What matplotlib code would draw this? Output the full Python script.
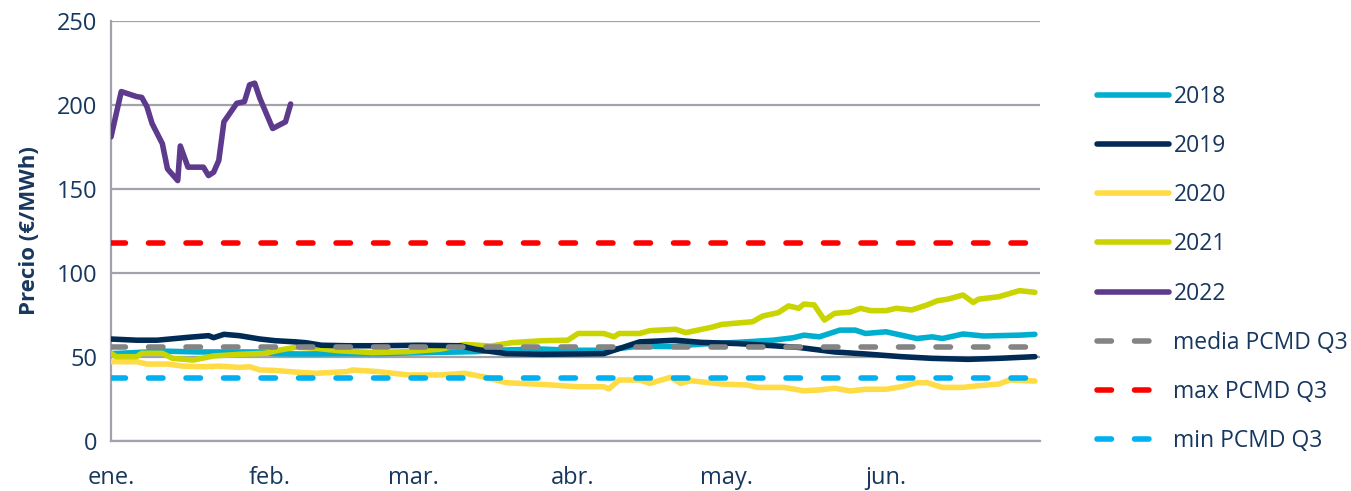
import matplotlib
matplotlib.use('Agg')
import matplotlib.pyplot as plt

plt.rcParams['font.family'] = ['Open Sans', 'DejaVu Sans']

# eje x en dias desde el 1 de enero
month_days = [0, 31, 59, 90, 120, 151]
month_labels = ['ene.', 'feb.', 'mar.', 'abr.', 'may.', 'jun.']

days_2018 = [0, 4, 10, 17, 25, 29, 32, 37, 45, 52, 60, 71, 77, 84, 90, 96, 103, 109, 115,
             122, 129, 133, 135, 138, 140, 142, 145, 147, 151, 154, 157, 160, 162, 166, 170, 177, 180]
vals_2018 = [52, 52.5, 53.5, 53, 53, 53, 52, 51.8, 52, 52, 52.5, 53.2, 54.2, 54.7, 54, 54, 56.5, 56.2, 57.7,
             58.7, 60, 61.5, 63, 62, 64, 66, 66, 64, 65, 63, 61, 62, 61, 63.7, 62.5, 63, 63.5]

days_2019 = [0, 5, 9, 15, 19, 20, 22, 25, 29, 32, 36, 38, 41, 46, 52, 60, 68, 71, 77, 84, 91, 96,
             103, 110, 115, 122, 129, 134, 141, 147, 154, 160, 167, 173, 180]
vals_2019 = [60.7, 60, 60, 61.7, 62.7, 61.5, 63.5, 62.7, 60.7, 59.7, 59, 58.5, 57, 56.7, 56.7, 57, 56.7, 54.6,
             52, 51.6, 51.8, 52, 59, 60, 58.7, 58, 56.7, 55.7, 53, 51.8, 50.2, 49.2, 48.6, 49.2, 50.2]

days_2020 = [0, 5, 7, 11, 14, 18, 21, 25, 27, 29, 32, 36, 40, 46, 47, 52, 58, 64, 69, 73, 77, 84,
             91, 96, 97, 99, 103, 105, 109, 111, 113, 119, 124, 126, 131, 135, 138, 141, 144, 147,
             151, 154, 157, 159, 162, 166, 169, 173, 175, 180]
vals_2020 = [47.2, 47.2, 45.8, 45.8, 44.6, 44.2, 44.6, 43.8, 44.2, 42.3, 42, 41, 40.3, 41.3, 42.3, 41.3,
             39.3, 39.3, 40.3, 37.9, 34.7, 33.7, 32.3, 32.3, 31, 36.3, 36.3, 34.3, 37.9, 34.3, 35.9, 33.9,
             33.3, 31.9, 31.9, 29.9, 30.4, 31.4, 29.8, 30.8, 30.8, 32.3, 34.7, 34.7, 31.9, 31.9, 32.9,
             33.9, 36.3, 35.7]

days_2021 = [0, 1, 5, 6, 10, 12, 16, 20, 25, 30, 33, 36, 40, 44, 51, 58, 64, 69, 74, 78, 84, 89,
             91, 96, 98, 99, 103, 105, 110, 112, 117, 119, 125, 127, 130, 132, 134, 135, 137, 139,
             141, 144, 146, 148, 151, 153, 156, 159, 161, 163, 166, 168, 169, 173, 177, 180]
vals_2021 = [52.2, 50.2, 50.2, 52.2, 52.2, 49.2, 48.2, 50.6, 51.6, 52.2, 54.2, 55.8, 55.2, 53.8, 52.6,
             53.2, 54.6, 57.5, 56.5, 58.5, 59.7, 60, 64, 64, 62, 64, 64, 65.7, 66.5, 64.5, 67.7, 69.4,
             71, 74.4, 76.4, 80.4, 79, 81.5, 81, 72, 76, 76.7, 79, 77.6, 77.6, 79, 78, 81, 83.5, 84.4,
             86.9, 82.5, 84.4, 85.9, 89.5, 88.5]

days_2022 = [0, 2, 5, 6, 7, 8, 10, 11, 13, 13.5, 15, 18, 19, 20, 21, 22, 24.5, 26, 27, 28, 29, 31.5, 34, 35]
vals_2022 = [181, 208, 205, 204.5, 199, 189, 177, 162, 155, 175.6, 163, 163, 158, 160, 167, 190, 201,
             202, 212, 213, 204, 186, 190, 200.6]

media_pcmd = 56
max_pcmd = 118
min_pcmd = 37.5

fig = plt.figure(figsize=(13.51, 4.91), dpi=100)
ax = fig.add_axes([111 / 1351, 50 / 491, 929 / 1351, 420 / 491])

lw = 4
ax.plot(days_2018, vals_2018, color='#00AECF', lw=lw, solid_capstyle='round', solid_joinstyle='round', label='2018', zorder=3)
ax.plot(days_2019, vals_2019, color='#002B55', lw=lw, solid_capstyle='round', solid_joinstyle='round', label='2019', zorder=4)
ax.plot(days_2020, vals_2020, color='#FFDC45', lw=lw, solid_capstyle='round', solid_joinstyle='round', label='2020', zorder=3)
ax.plot(days_2021, vals_2021, color='#C9D400', lw=lw, solid_capstyle='round', solid_joinstyle='round', label='2021', zorder=3)
ax.plot(days_2022, vals_2022, color='#5E3A8C', lw=lw, solid_capstyle='round', solid_joinstyle='round', label='2022', zorder=3)

dash = (0, (2.6, 4.15))
ax.plot([0, 180], [media_pcmd, media_pcmd], color='#848484', lw=lw, ls=dash, dash_capstyle='round', label='media PCMD Q3', zorder=5)
ax.plot([0, 180], [max_pcmd, max_pcmd], color='#FF0000', lw=lw, ls=dash, dash_capstyle='round', label='max PCMD Q3', zorder=5)
ax.plot([0, 180], [min_pcmd, min_pcmd], color='#00B0F0', lw=lw, ls=dash, dash_capstyle='round', label='min PCMD Q3', zorder=5)

ax.set_xlim(0, 181)
ax.set_ylim(0, 250)
ax.set_yticks([0, 50, 100, 150, 200, 250])
ax.set_xticks(month_days)
ax.set_xticklabels(month_labels)

txt = '#17375E'
ax.tick_params(axis='both', length=0, labelsize=17, colors=txt)
ax.tick_params(axis='y', pad=10)
ax.tick_params(axis='x', pad=18)
ax.grid(axis='y', color='#A0A3A9', lw=1.6, zorder=0)
for s in ['top', 'right']:
    ax.spines[s].set_visible(False)
for s in ['left', 'bottom']:
    ax.spines[s].set_color('#A0A3A9')
    ax.spines[s].set_linewidth(1.6)
ax.set_ylabel('Precio (€/MWh)', fontsize=16, fontweight='bold', color=txt, labelpad=12)

leg = fig.legend(loc='center left', bbox_to_anchor=(1076 / 1351, 0.452), frameon=False,
                 fontsize=16.5, handlelength=3.15, handletextpad=0.2, labelspacing=1.1)
for t in leg.get_texts():
    t.set_color(txt)

fig.savefig('out.png', dpi=100)
